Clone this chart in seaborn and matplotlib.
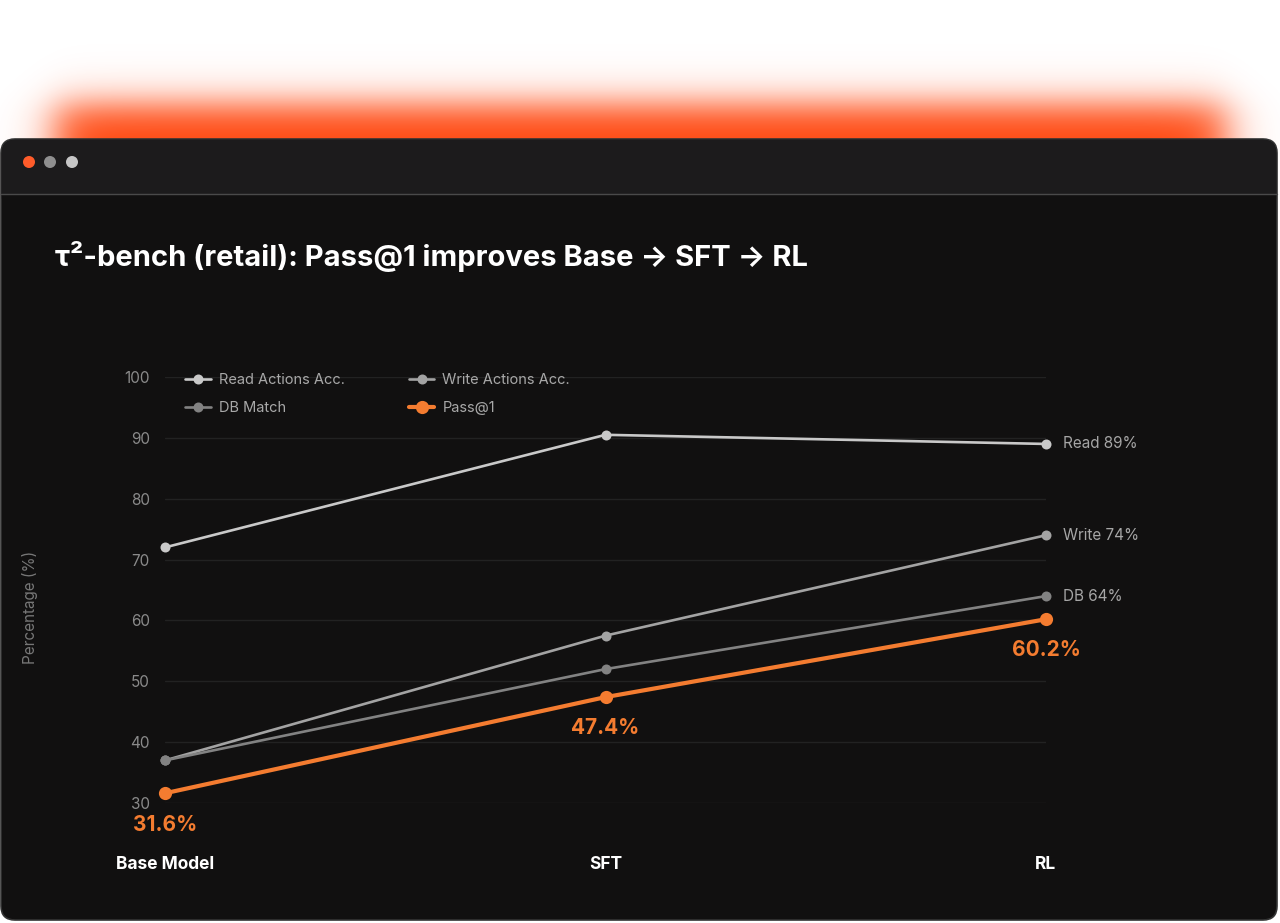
import numpy as np
import pandas as pd
import matplotlib
matplotlib.use("Agg")
import matplotlib.pyplot as plt
from matplotlib.patches import FancyBboxPatch, Rectangle, Circle
import seaborn as sns

# chart data
stages = ["Base Model", "SFT", "RL"]
read_acc = [72.0, 90.5, 89.0]
write_acc = [37.0, 57.5, 74.0]
db_match = [37.0, 52.0, 64.0]
pass_at_1 = [31.6, 47.4, 60.2]

series_names = ["Read Actions Acc.", "Write Actions Acc.", "DB Match", "Pass@1"]
end_labels = ["Read 89%", "Write 74%", "DB 64%"]
yticks = [30, 40, 50, 60, 70, 80, 90, 100]

title = "τ²-bench (retail): Pass@1 improves Base → SFT → RL"

colors = {
    "Read Actions Acc.": "#c9c9c9",
    "Write Actions Acc.": "#a3a3a3",
    "DB Match": "#828282",
    "Pass@1": "#f47c30",
}

sns.set_theme(style="dark")
plt.rcParams["font.family"] = ["Inter", "DejaVu Sans"]

W, H = 1280, 923
fig = plt.figure(figsize=(W / 100, H / 100), dpi=100)
fig.patch.set_facecolor("white")

# --- background: glow + window frame ---
bg = fig.add_axes([0, 0, 1, 1], zorder=0)
bg.set_xlim(0, W)
bg.set_ylim(H, 0)
bg.axis("off")

xs = np.arange(W)[None, :]
ys = np.arange(H)[:, None]
fx = 1 / (1 + np.exp(-(xs - 55) / 13)) / (1 + np.exp((xs - 1225) / 13))
fy = 1 / (1 + np.exp(-(ys - 104) / 11)) * (ys < 300)
glow = np.zeros((H, W, 4))
glow[..., 0] = 1.0
glow[..., 1] = 0.28
glow[..., 2] = 0.06
glow[..., 3] = fx * fy
bg.imshow(glow, extent=[0, W, H, 0], aspect="auto", interpolation="bilinear")

body = "#111010"
bar = "#1c1b1c"
bg.add_patch(FancyBboxPatch((1, 139), 1276, 781,
                            boxstyle="round,pad=0,rounding_size=14",
                            fc=body, ec="#333333", lw=1.2))
bg.add_patch(FancyBboxPatch((1.6, 139.6), 1274.8, 70,
                            boxstyle="round,pad=0,rounding_size=14",
                            fc=bar, ec="none"))
bg.add_patch(Rectangle((1.6, 194), 1274.8, 20, fc=body, ec="none"))
bg.plot([1, 1277], [194, 194], color="#4a4a4a", lw=1)
for cx, c in zip([29, 50, 72], ["#ff5c2a", "#8f8f8f", "#c6c6c6"]):
    bg.add_patch(Circle((cx, 162), 6, fc=c, ec="none"))

fig.text(55 / W, 1 - 256 / H, title, color="white", fontsize=21,
         fontweight="bold", ha="left", va="center")

# --- main chart ---
ax = fig.add_axes([165 / W, 1 - 803 / H, (1046 - 165) / W, (803 - 377) / H], zorder=1)
ax.set_facecolor("none")

data = {
    "Read Actions Acc.": read_acc,
    "Write Actions Acc.": write_acc,
    "DB Match": db_match,
    "Pass@1": pass_at_1,
}
for name in series_names:
    df = pd.DataFrame({"stage": stages, "value": data[name]})
    is_pass = name == "Pass@1"
    sns.lineplot(data=df, x="stage", y="value", ax=ax, sort=False,
                 color=colors[name], label=name,
                 linewidth=3.0 if is_pass else 1.9,
                 marker="o", markersize=9.5 if is_pass else 7.2,
                 markeredgewidth=0, clip_on=False,
                 zorder=4 if is_pass else 3)

ax.set_xlim(0, 2)
ax.set_ylim(30, 100)
ax.set_yticks(yticks)
ax.grid(axis="y", color="#222222", linewidth=1)
ax.grid(axis="x", visible=False)
for s in ax.spines.values():
    s.set_visible(False)
ax.tick_params(axis="y", length=0, pad=11, labelsize=11, labelcolor="#8a8a8a")
ax.tick_params(axis="x", length=0, pad=38, labelsize=12.5, labelcolor="white")
for lbl in ax.get_xticklabels():
    lbl.set_fontweight("bold")
ax.set_xlabel("")
ax.set_ylabel("Percentage (%)", color="#777777", fontsize=11)
ax.yaxis.set_label_coords(-0.144, 0.46)

# end labels for grey series
for name, txt in zip(series_names[:3], end_labels):
    ax.annotate(txt, xy=(2, data[name][-1]), xytext=(12, 0),
                textcoords="offset points", ha="left", va="center",
                color="#a6a6a6", fontsize=11, annotation_clip=False)

# Pass@1 value labels
for i, v in enumerate(pass_at_1):
    ax.annotate(f"{v:.1f}%", xy=(i, v), xytext=(0, -22.5),
                textcoords="offset points", ha="center", va="center",
                color=colors["Pass@1"], fontsize=15, fontweight="bold",
                annotation_clip=False)

# legend: row-wise order (Read, Write / DB, Pass@1)
handles, labels = ax.get_legend_handles_labels()
order = [0, 2, 1, 3]
leg = ax.legend([handles[i] for i in order], [labels[i] for i in order],
                ncol=2, loc="upper left", bbox_to_anchor=(0.008, 1.04),
                frameon=False, fontsize=10.5, handlelength=1.75,
                handletextpad=0.55, columnspacing=4.4, labelspacing=0.95)
for t in leg.get_texts():
    t.set_color("#a8a8a8")

fig.savefig("out.png", dpi=100)
